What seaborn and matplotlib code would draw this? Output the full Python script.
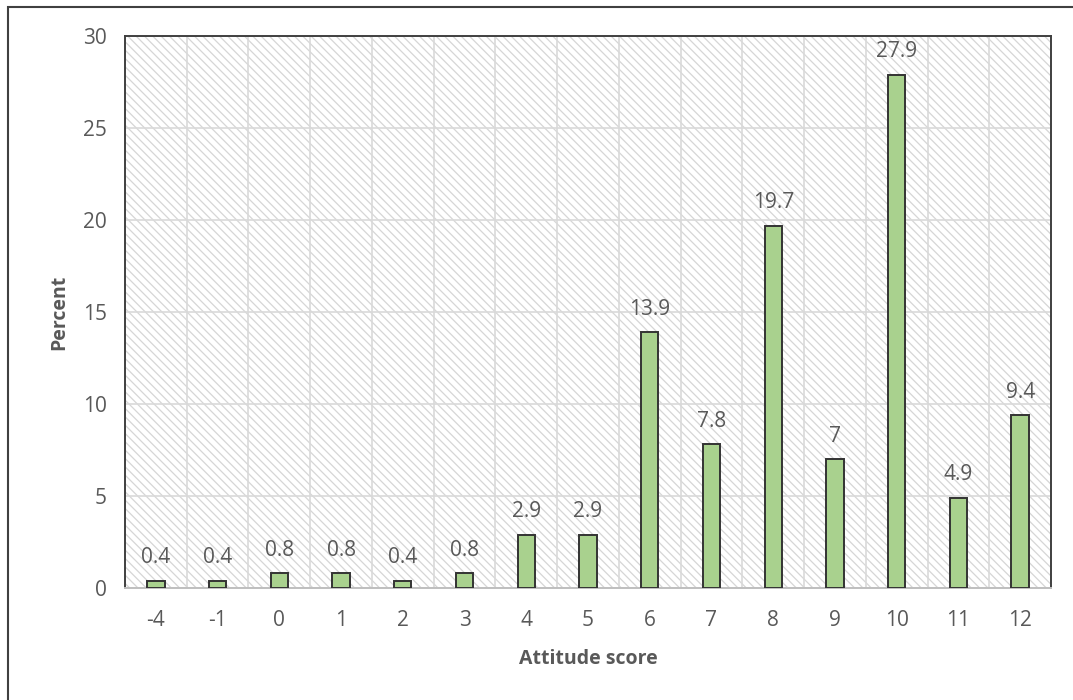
import pandas as pd
import matplotlib.pyplot as plt
import matplotlib.patches as mpatches
from matplotlib.ticker import FixedLocator
import seaborn as sns

# 数据
scores = ['-4', '-1', '0', '1', '2', '3', '4', '5', '6', '7', '8', '9', '10', '11', '12']
percent = [0.4, 0.4, 0.8, 0.8, 0.4, 0.8, 2.9, 2.9, 13.9, 7.8, 19.7, 7, 27.9, 4.9, 9.4]
value_labels = ['0.4', '0.4', '0.8', '0.8', '0.4', '0.8', '2.9', '2.9', '13.9', '7.8',
                '19.7', '7', '27.9', '4.9', '9.4']

df = pd.DataFrame({'score': scores, 'percent': percent})

sns.set_style('white')
plt.rcParams['font.family'] = ['Open Sans', 'DejaVu Sans']
plt.rcParams['hatch.color'] = '#d6d6d6'
plt.rcParams['hatch.linewidth'] = 0.9

text_col = '#595959'
fs = 15
fs_lab = 14

fig = plt.figure(figsize=(10.73, 7), dpi=100)
ax = fig.add_axes([125 / 1073, 1 - 588 / 700, (1051 - 125) / 1073, (588 - 36) / 700])

# 背景斜线
ax.add_patch(mpatches.Rectangle((0, 0), 1, 1, transform=ax.transAxes, facecolor='white',
                                edgecolor='#d6d6d6', linewidth=0, hatch='\\' * 4, zorder=0))

sns.barplot(data=df, x='score', y='percent', order=scores, color='#a9d18e',
            saturation=1, width=0.28, edgecolor='#333333', linewidth=1.4, ax=ax, zorder=3)

ax.set_ylim(0, 30)
ax.set_xlim(-0.5, len(scores) - 0.5)
ax.set_yticks(range(0, 31, 5))
ax.xaxis.set_minor_locator(FixedLocator([i + 0.5 for i in range(-1, len(scores))]))
ax.grid(axis='y', which='major', color='#d9d9d9', linewidth=1.2, zorder=1)
ax.grid(axis='x', which='minor', color='#d9d9d9', linewidth=1.2, zorder=1)
ax.set_axisbelow(True)
ax.tick_params(axis='both', which='both', length=0, labelsize=fs, labelcolor=text_col)
ax.tick_params(axis='x', pad=16)
ax.tick_params(axis='y', pad=13)

for side in ['left', 'top', 'right']:
    ax.spines[side].set_color('#404040')
    ax.spines[side].set_linewidth(1.4)
ax.spines['bottom'].set_color('#bfbfbf')
ax.spines['bottom'].set_linewidth(1.4)

for i, (v, lab) in enumerate(zip(percent, value_labels)):
    ax.annotate(lab, (i, v), xytext=(0, 9), textcoords='offset points',
                ha='center', va='bottom', fontsize=fs, color=text_col)

ax.set_xlabel('Attitude score', fontsize=fs_lab, fontweight='bold', color=text_col, labelpad=13)
ax.set_ylabel('Percent', fontsize=fs_lab, fontweight='bold', color=text_col, labelpad=10)

# 外框
fig.patches.append(mpatches.Rectangle((8 / 1073, -0.05), 1.2, 1 - 7 / 700 + 0.05,
                                      transform=fig.transFigure, fill=False,
                                      edgecolor='#404040', linewidth=1.5))

fig.savefig('out.png', dpi=100)
